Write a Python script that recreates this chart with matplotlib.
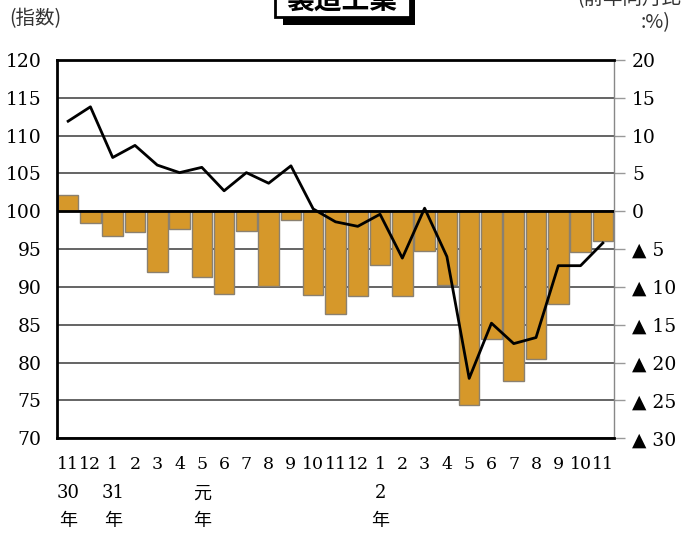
import matplotlib
matplotlib.use('Agg')
import matplotlib.pyplot as plt
import matplotlib.transforms as mtransforms
from matplotlib.patches import Rectangle
import numpy as np

# months from H30.11 to R2.11
months = ['11', '12', '1', '2', '3', '4', '5', '6', '7', '8', '9', '10', '11',
          '12', '1', '2', '3', '4', '5', '6', '7', '8', '9', '10', '11']
year_pos = [0, 2, 6, 14]
year_labels = ['30', '31', '元', '2']

# production index (left axis)
index = [111.9, 113.8, 107.1, 108.7, 106.1, 105.1, 105.8, 102.7, 105.1, 103.7,
         106.0, 100.3, 98.6, 98.0, 99.6, 93.8, 100.4, 94.0, 77.9, 85.2,
         82.5, 83.3, 92.8, 92.8, 95.8]
# year-on-year change, % (right axis)
yoy = [2.2, -1.6, -3.3, -2.7, -8.1, -2.4, -8.7, -10.9, -2.6, -9.9,
       -1.1, -11.1, -13.6, -11.2, -7.1, -11.2, -5.2, -9.7, -25.6, -16.9,
       -22.5, -19.6, -12.3, -5.4, -3.9]

left_ticks = [70, 75, 80, 85, 90, 95, 100, 105, 110, 115, 120]
right_ticks = [-30, -25, -20, -15, -10, -5, 0, 5, 10, 15, 20]
right_labels = ['▲ 30', '▲ 25', '▲ 20', '▲ 15', '▲ 10', '▲ 5',
                '0', '5', '10', '15', '20']

num_font = ['DejaVu Serif', 'Noto Sans CJK JP']
jp_font = ['Noto Sans CJK JP', 'DejaVu Sans']

W, H = 681, 535
fig = plt.figure(figsize=(W / 100, H / 100), dpi=100)
ax = fig.add_subplot(111)
fig.subplots_adjust(left=0.0837, right=0.9016, top=0.888, bottom=0.181)
ax2 = ax.twinx()

x = np.arange(len(months))

# bars + grid on the twin axis, line on top
ax2.set_axisbelow(True)
ax2.yaxis.grid(True, color='#3a3a3a', lw=1.1)
ax2.bar(x, yoy, width=0.92, color='#D6982A', edgecolor='#8a8070', lw=1.0, zorder=2)
ax2.axhline(0, color='black', lw=2, zorder=3)
ax2.set_ylim(-30, 20)
ax2.set_yticks(right_ticks)
ax2.set_yticklabels(right_labels, family=num_font, fontsize=13.5)
ax2.tick_params(axis='y', length=8, width=1, color='#999999', pad=5)

ax.set_zorder(ax2.get_zorder() + 1)
ax.patch.set_visible(False)
ax.plot(x, index, color='black', lw=2, zorder=4)
ax.set_ylim(70, 120)
ax.set_xlim(-0.5, len(months) - 0.5)
ax.set_yticks(left_ticks)
ax.set_yticklabels([str(t) for t in left_ticks], family=num_font, fontsize=13.5)
ax.tick_params(axis='y', length=0, pad=11)
ax.set_xticks(x)
ax.set_xticklabels(months, family=num_font, fontsize=12.5)
ax.tick_params(axis='x', length=0, pad=13)

for s in ['left', 'bottom', 'top']:
    ax.spines[s].set_linewidth(2)
    ax.spines[s].set_color('black')
ax.spines['right'].set_visible(False)
for s in ['left', 'bottom', 'top']:
    ax2.spines[s].set_visible(False)
ax2.spines['right'].set_color('#888888')
ax2.spines['right'].set_linewidth(1)

# year labels under the month ticks
trans = mtransforms.blended_transform_factory(ax.transData, ax.transAxes)
for p, lab in zip(year_pos, year_labels):
    ax.text(p, -0.146, lab, transform=trans, ha='center', va='center',
            fontsize=13, family=num_font)
    ax.text(p, -0.218, '年', transform=trans, ha='center', va='center',
            fontsize=13, family=jp_font)

# headers
fig.text(0.014, 0.965, '(指数)', fontsize=14, family=jp_font,
         ha='left', va='center', color='#333333')
fig.text(1.0, 1.002, '(前年同月比', fontsize=14, family=jp_font,
         ha='right', va='center', color='#333333')
fig.text(0.985, 0.958, ':%)', fontsize=14, family=jp_font,
         ha='right', va='center', color='#333333')

# boxed title with drop shadow
fig.patches.append(Rectangle((283 / W, 1 - 25 / H), 132 / W, 30 / H,
                             transform=fig.transFigure, fc='black', ec='none',
                             zorder=1))
fig.patches.append(Rectangle((275 / W, 1 - 17 / H), 135 / W, 25 / H,
                             transform=fig.transFigure, fc='white', ec='black',
                             lw=2, zorder=2))
fig.text(342 / W, 1 - 2 / H, '製造工業', fontsize=20, weight='bold',
         family=jp_font, ha='center', va='center', color='black', zorder=3)

fig.savefig('out.png', dpi=100)
plt.close(fig)
